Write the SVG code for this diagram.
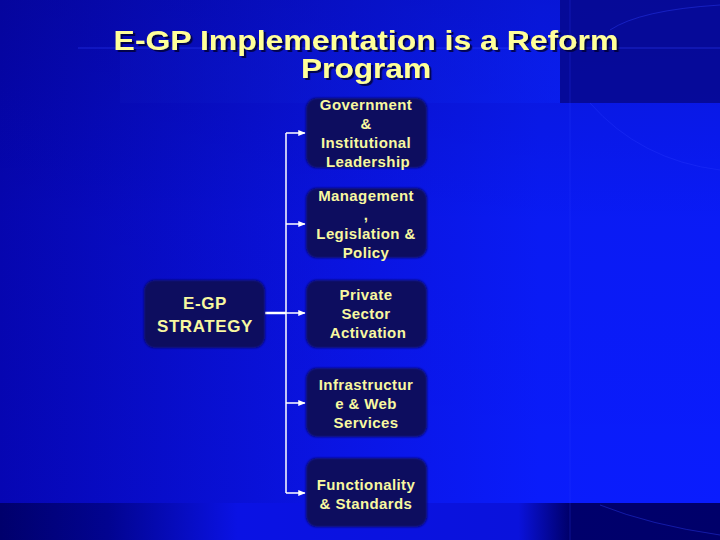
<svg xmlns="http://www.w3.org/2000/svg" width="720" height="540" viewBox="0 0 720 540">
<defs>
<linearGradient id="bgH" x1="0" y1="0" x2="1" y2="0">
<stop offset="0" stop-color="#0606b4"/>
<stop offset="0.45" stop-color="#0a14e4"/>
<stop offset="0.75" stop-color="#0a1cfc"/>
<stop offset="1" stop-color="#0a1cff"/>
</linearGradient>
<linearGradient id="bgV" x1="0" y1="0" x2="0" y2="1">
<stop offset="0" stop-color="#000040" stop-opacity="0.2"/>
<stop offset="0.4" stop-color="#000040" stop-opacity="0.05"/>
<stop offset="1" stop-color="#000040" stop-opacity="0"/>
</linearGradient>
<linearGradient id="bottom" x1="0" y1="0" x2="1" y2="0">
<stop offset="0" stop-color="#00006c"/>
<stop offset="0.15" stop-color="#020490"/>
<stop offset="0.33" stop-color="#0a12e4"/>
<stop offset="0.72" stop-color="#0a12dc"/>
<stop offset="0.79" stop-color="#00006c"/>
<stop offset="1" stop-color="#00006a"/>
</linearGradient>
<linearGradient id="titleBand" x1="0" y1="0" x2="1" y2="0">
<stop offset="0" stop-color="#0a10b8"/>
<stop offset="1" stop-color="#0a22f4"/>
</linearGradient>
<marker id="arr" viewBox="0 0 10 10" refX="9" refY="5" markerWidth="5" markerHeight="5" orient="auto" markerUnits="strokeWidth">
<path d="M0,1 L10,5 L0,9 z" fill="#ffffff"/>
</marker>
<filter id="soft" x="-10%" y="-10%" width="120%" height="120%">
<feGaussianBlur stdDeviation="1.2"/>
</filter>
<filter id="shadow" x="-5%" y="-20%" width="110%" height="150%">
<feDropShadow dx="2" dy="2" stdDeviation="0.6" flood-color="#000030" flood-opacity="0.8"/>
</filter>
</defs>
<style>
.box{fill:#0a0a5e;filter:url(#soft)}
.lbl{font-family:"Liberation Sans",Arial,sans-serif;font-weight:bold;font-size:15px;fill:#f8f8a0;text-anchor:middle;letter-spacing:0.4px}
.big{font-size:17px;letter-spacing:0.6px}
.title{font-family:"Liberation Sans",Arial,sans-serif;font-weight:bold;font-size:28px;fill:#ffff99;text-anchor:middle;filter:url(#shadow)}
.conn{stroke:#ffffff;stroke-width:1.5;fill:none}
</style>
<!-- background -->
<rect x="0" y="0" width="720" height="540" fill="url(#bgH)"/>
<rect x="0" y="0" width="720" height="540" fill="url(#bgV)"/>
<rect x="120" y="48" width="440" height="55" fill="url(#titleBand)" opacity="0.5"/>
<rect x="560" y="0" width="160" height="103" fill="#06088c" opacity="0.85"/>
<rect x="0" y="503" width="720" height="37" fill="url(#bottom)"/>
<line x1="78" y1="48" x2="720" y2="48" stroke="#3040ff" stroke-width="1" opacity="0.5"/>
<line x1="570" y1="0" x2="570" y2="540" stroke="#3040ff" stroke-width="1" opacity="0.25"/>
<path d="M610,30 Q640,10 720,5" stroke="#3040ff" stroke-width="1" fill="none" opacity="0.4"/>
<path d="M590,103 Q640,160 720,170" stroke="#3040ff" stroke-width="1" fill="none" opacity="0.3"/>
<path d="M600,505 Q650,525 720,535" stroke="#3040ff" stroke-width="1" fill="none" opacity="0.4"/>

<g id="title">
<text class="title" transform="translate(366,50) scale(1.14,1)" x="0" y="0">E-GP Implementation is a Reform</text>
<text class="title" transform="translate(366,78) scale(1.13,1)" x="0" y="0">Program</text>
</g>

<g id="connectors">
<line class="conn" x1="286" y1="133" x2="286" y2="493"/>
<line x1="265" y1="313" x2="286" y2="313" stroke="#ffffff" stroke-width="2.5"/>
<line class="conn" x1="286" y1="133" x2="305" y2="133" marker-end="url(#arr)"/>
<line class="conn" x1="286" y1="224" x2="305" y2="224" marker-end="url(#arr)"/>
<line class="conn" x1="286" y1="313" x2="305" y2="313" marker-end="url(#arr)"/>
<line class="conn" x1="286" y1="403" x2="305" y2="403" marker-end="url(#arr)"/>
<line class="conn" x1="286" y1="493" x2="305" y2="493" marker-end="url(#arr)"/>
</g>

<g id="strategy">
<rect class="box" x="144" y="280" width="121" height="68" rx="11"/>
<text class="lbl big" x="205" y="309">E-GP</text>
<text class="lbl big" x="205" y="332">STRATEGY</text>
</g>

<g id="government">
<rect class="box" x="306" y="98" width="121" height="70" rx="11"/>
<text class="lbl" x="366" y="110">Government</text>
<text class="lbl" x="366" y="129">&amp;</text>
<text class="lbl" x="366" y="148">Institutional</text>
<text class="lbl" x="368" y="167">Leadership</text>
</g>

<g id="management">
<rect class="box" x="306" y="188" width="121" height="70" rx="11"/>
<text class="lbl" x="366" y="201">Management</text>
<text class="lbl" x="366" y="220">,</text>
<text class="lbl" x="366" y="239">Legislation &amp;</text>
<text class="lbl" x="366" y="258">Policy</text>
</g>

<g id="private">
<rect class="box" x="306" y="280" width="121" height="68" rx="11"/>
<text class="lbl" x="366" y="300">Private</text>
<text class="lbl" x="366" y="319">Sector</text>
<text class="lbl" x="368" y="338">Activation</text>
</g>

<g id="infrastructure">
<rect class="box" x="306" y="368" width="121" height="69" rx="11"/>
<text class="lbl" x="366" y="390">Infrastructur</text>
<text class="lbl" x="366" y="409">e &amp; Web</text>
<text class="lbl" x="366" y="428">Services</text>
</g>

<g id="functionality">
<rect class="box" x="306" y="458" width="121" height="69" rx="11"/>
<text class="lbl" x="366" y="490">Functionality</text>
<text class="lbl" x="366" y="509">&amp; Standards</text>
</g>
</svg>
